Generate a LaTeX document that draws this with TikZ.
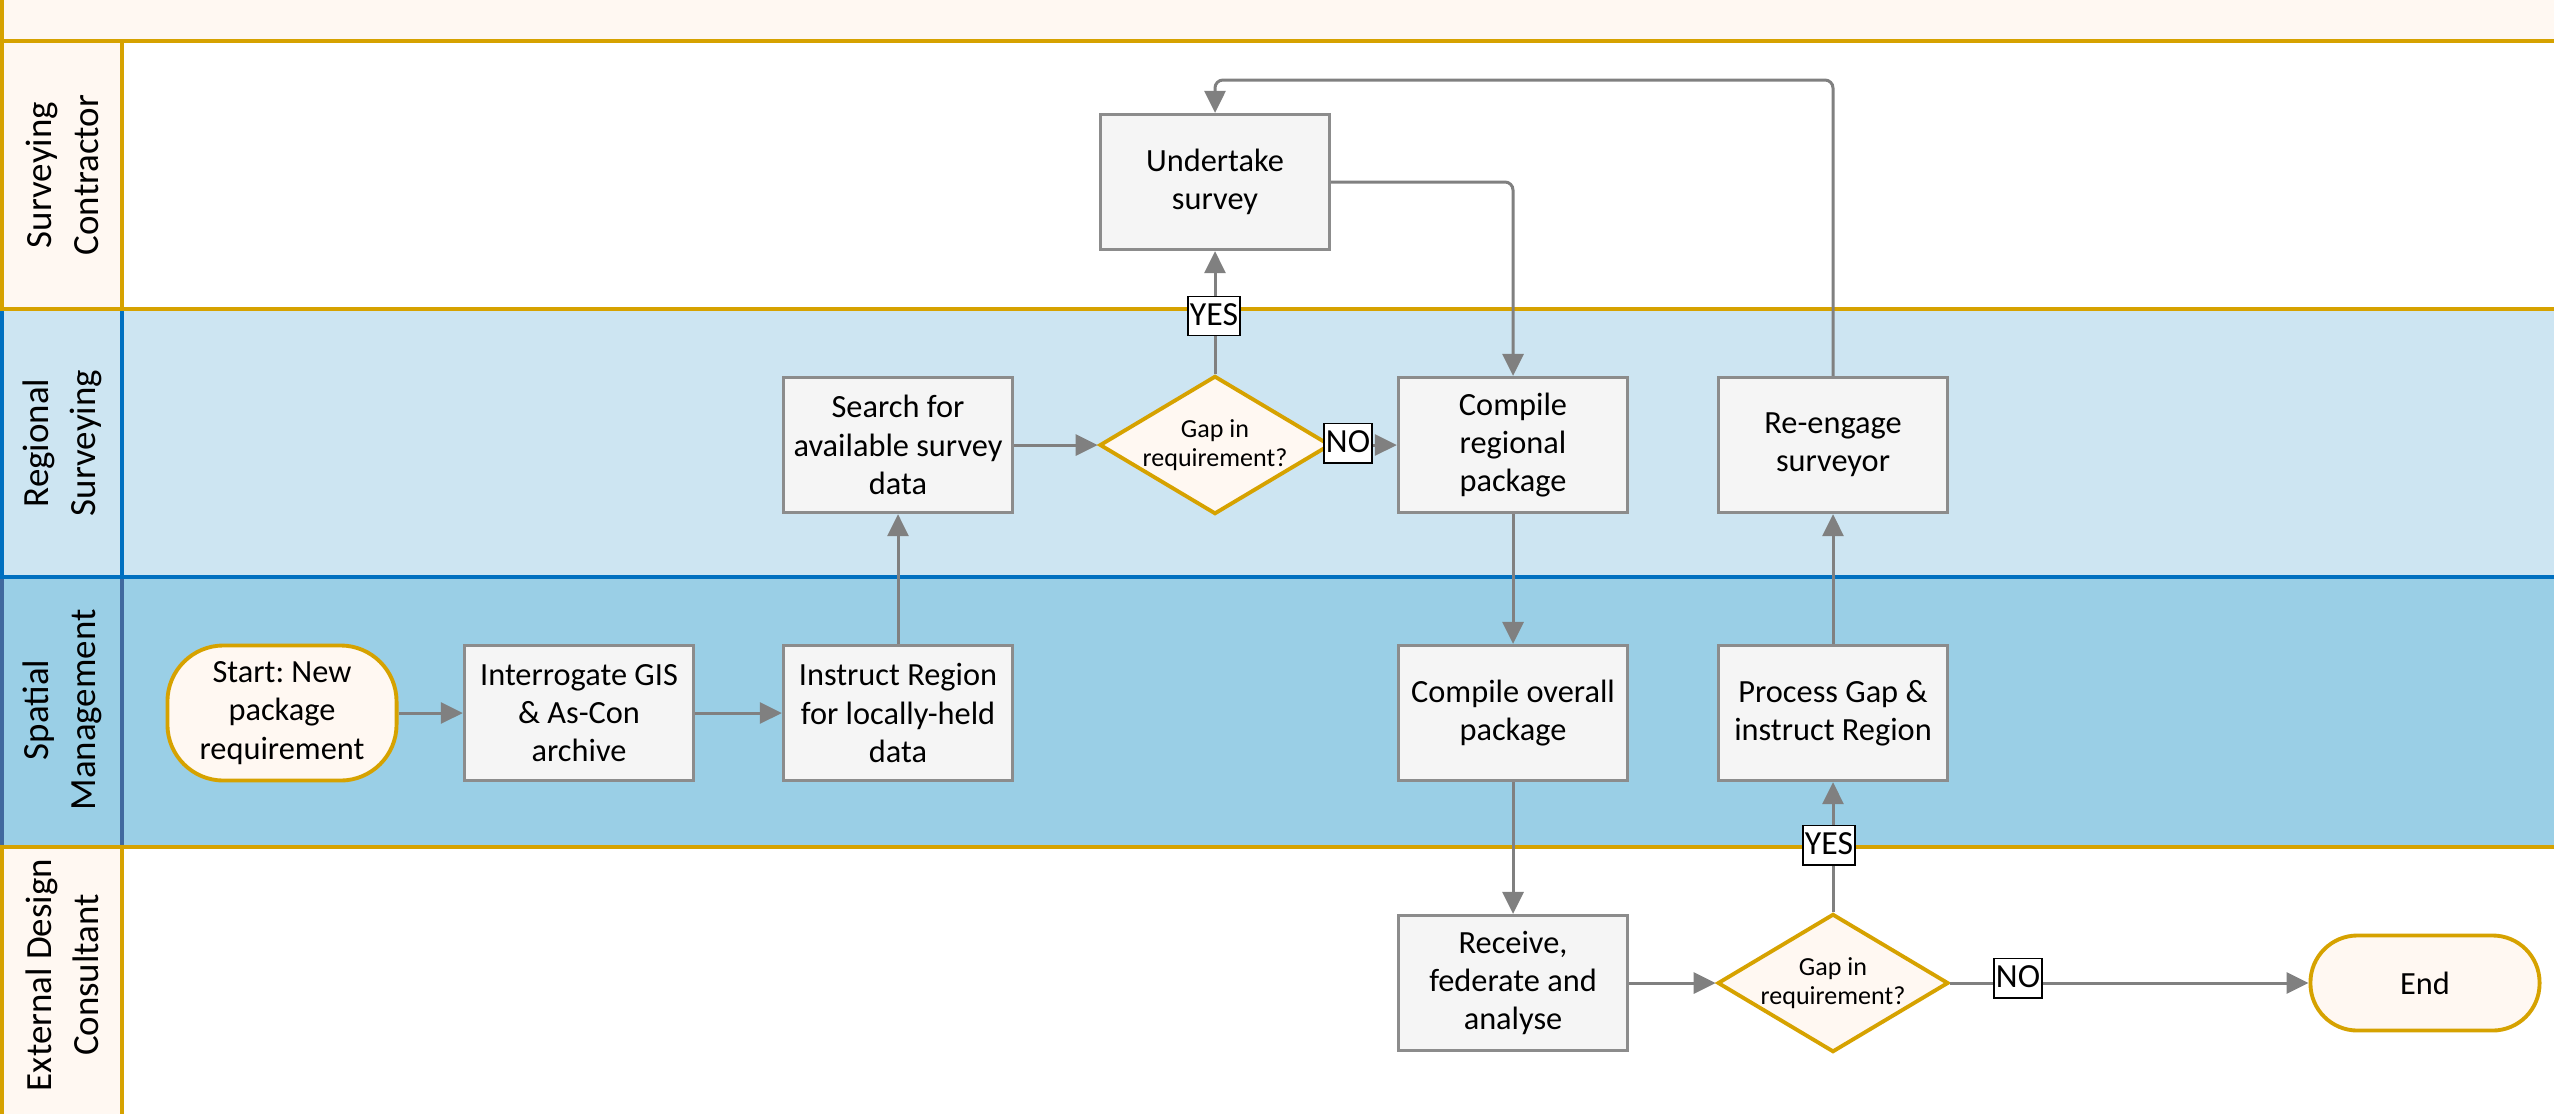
\documentclass[tikz,border=0pt]{standalone}
\usepackage{fontspec}
\setmainfont{Carlito}
\frenchspacing
\usetikzlibrary{arrows.meta,shapes.geometric}
\definecolor{gold}{HTML}{D6A200}
\definecolor{cream}{HTML}{FFF8F2}
\definecolor{lblue}{HTML}{CDE5F2}
\definecolor{mblue}{HTML}{9ACFE6}
\definecolor{dblue}{HTML}{0070C0}
\definecolor{slate}{HTML}{41699E}
\definecolor{boxfill}{HTML}{F5F5F5}
\definecolor{boxline}{HTML}{8C8C8C}
\definecolor{arr}{HTML}{808080}
\tikzset{
  laneline/.style={line width=1.15pt},
  proc/.style={draw=boxline, fill=boxfill, line width=0.9pt, minimum width=2.29cm,
    minimum height=1.35cm, align=center, inner sep=1pt,
    font=\fontsize{9.2pt}{10.9pt}\selectfont},
  term/.style={draw=gold, fill=cream, line width=1.1pt, minimum width=2.29cm,
    align=center, inner sep=1pt, font=\fontsize{9.2pt}{10.9pt}\selectfont},
  dec/.style={diamond, draw=gold, fill=cream, line width=1.1pt, minimum width=2.25cm,
    minimum height=1.35cm, aspect=1.67, inner sep=0pt, align=center,
    font=\fontsize{7.4pt}{8.4pt}\selectfont},
  flow/.style={draw=arr, line width=0.85pt, -{Triangle[length=0.22cm,width=0.21cm]}},
  yn/.style={draw=black, fill=white, line width=0.45pt, inner xsep=0.6pt, inner ysep=0.3pt,
    text height=8pt, text depth=2.6pt, font=\fontsize{9.6pt}{10.5pt}\selectfont},
  lanelbl/.style={rotate=90, align=center, font=\fontsize{10.5pt}{13.4pt}\selectfont},
}
\begin{document}
\begin{tikzpicture}[x=0.01cm,y=-0.01cm]
\useasboundingbox (0,0) rectangle (2554,1114);
% lane fills
\fill[cream] (0,0) rectangle (2554,41);
\fill[cream] (0,41) rectangle (122,309);
\fill[white] (122,41) rectangle (2554,309);
\fill[lblue] (0,309) rectangle (2554,577);
\fill[mblue] (0,577) rectangle (2554,847);
\fill[cream] (0,847) rectangle (122,1114);
\fill[white] (122,847) rectangle (2554,1114);
% lane lines
\draw[gold, laneline] (2,0) -- (2,309);
\draw[gold, laneline] (122,41) -- (122,309);
\draw[dblue, laneline] (2,309) -- (2,577);
\draw[dblue, laneline] (122,309) -- (122,577);
\draw[slate, laneline] (2,577) -- (2,847);
\draw[slate, laneline] (122,577) -- (122,847);
\draw[gold, laneline] (2,847) -- (2,1114);
\draw[gold, laneline] (122,847) -- (122,1114);
\draw[gold, laneline] (0,41) -- (2554,41);
\draw[dblue, laneline] (0,577) -- (2554,577);
\draw[gold, laneline] (0,309) -- (2554,309);
\draw[gold, laneline] (0,847) -- (2554,847);
% lane labels
\node[lanelbl] (lsc) at (62,175) {Surveying\\Contractor};
\node[lanelbl] (lrs) at (62,443) {Regional\\Surveying};
\node[lanelbl] (lsm) at (62,710) {Spatial\\Management};
\node[lanelbl] (led) at (62,975) {External Design\\Consultant};
% nodes
\node[term, minimum height=1.35cm, rounded corners=0.56cm] (start) at (282,713) {Start: New\\package\\requirement};
\node[proc] (interr) at (579,713) {Interrogate GIS\\\& As-Con\\archive};
\node[proc] (instr) at (898,713) {Instruct Region\\for locally-held\\data};
\node[proc] (search) at (898,445) {Search for\\available survey\\data};
\node[dec] (gap1) at (1215,445) {Gap in\\requirement?};
\node[proc] (under) at (1215,182) {Undertake\\survey};
\node[proc] (creg) at (1513,445) {Compile\\regional\\package};
\node[proc] (reeng) at (1833,445) {Re-engage\\surveyor};
\node[proc] (cover) at (1513,713) {Compile overall\\package};
\node[proc] (pgap) at (1833,713) {Process Gap \&\\instruct Region};
\node[proc] (recv) at (1513,983) {Receive,\\federate and\\analyse};
\node[dec] (gap2) at (1833,983) {Gap in\\requirement?};
\node[term, minimum height=0.95cm, rounded corners=0.47cm] (end) at (2425,983) {End};
\coordinate (looptop) at (1525,80);
% connectors
\draw[flow] (start) -- (interr);
\draw[flow] (interr) -- (instr);
\draw[flow] (instr) -- (search);
\draw[flow] (search) -- (gap1);
\draw[flow] (gap1.east) -- (creg.west);
\draw[flow] (gap1.north) -- (under.south);
\draw[flow, rounded corners=0.08cm] (under.east) -| (creg.north);
\draw[flow] (creg) -- (cover);
\draw[flow] (cover) -- (recv);
\draw[flow] (recv) -- (gap2);
\draw[flow] (gap2.east) -- (end.west);
\draw[flow] (gap2.north) -- (pgap.south);
\draw[flow] (pgap) -- (reeng);
\draw[flow, rounded corners=0.08cm] (reeng.north) |- (looptop) -| (under.north);
% labels
\node[yn] (yes1) at (1214,316) {YES};
\node[yn] (no1) at (1348,443) {NO};
\node[yn] (yes2) at (1829,845) {YES};
\node[yn] (no2) at (2018,978) {NO};
\end{tikzpicture}
\end{document}
